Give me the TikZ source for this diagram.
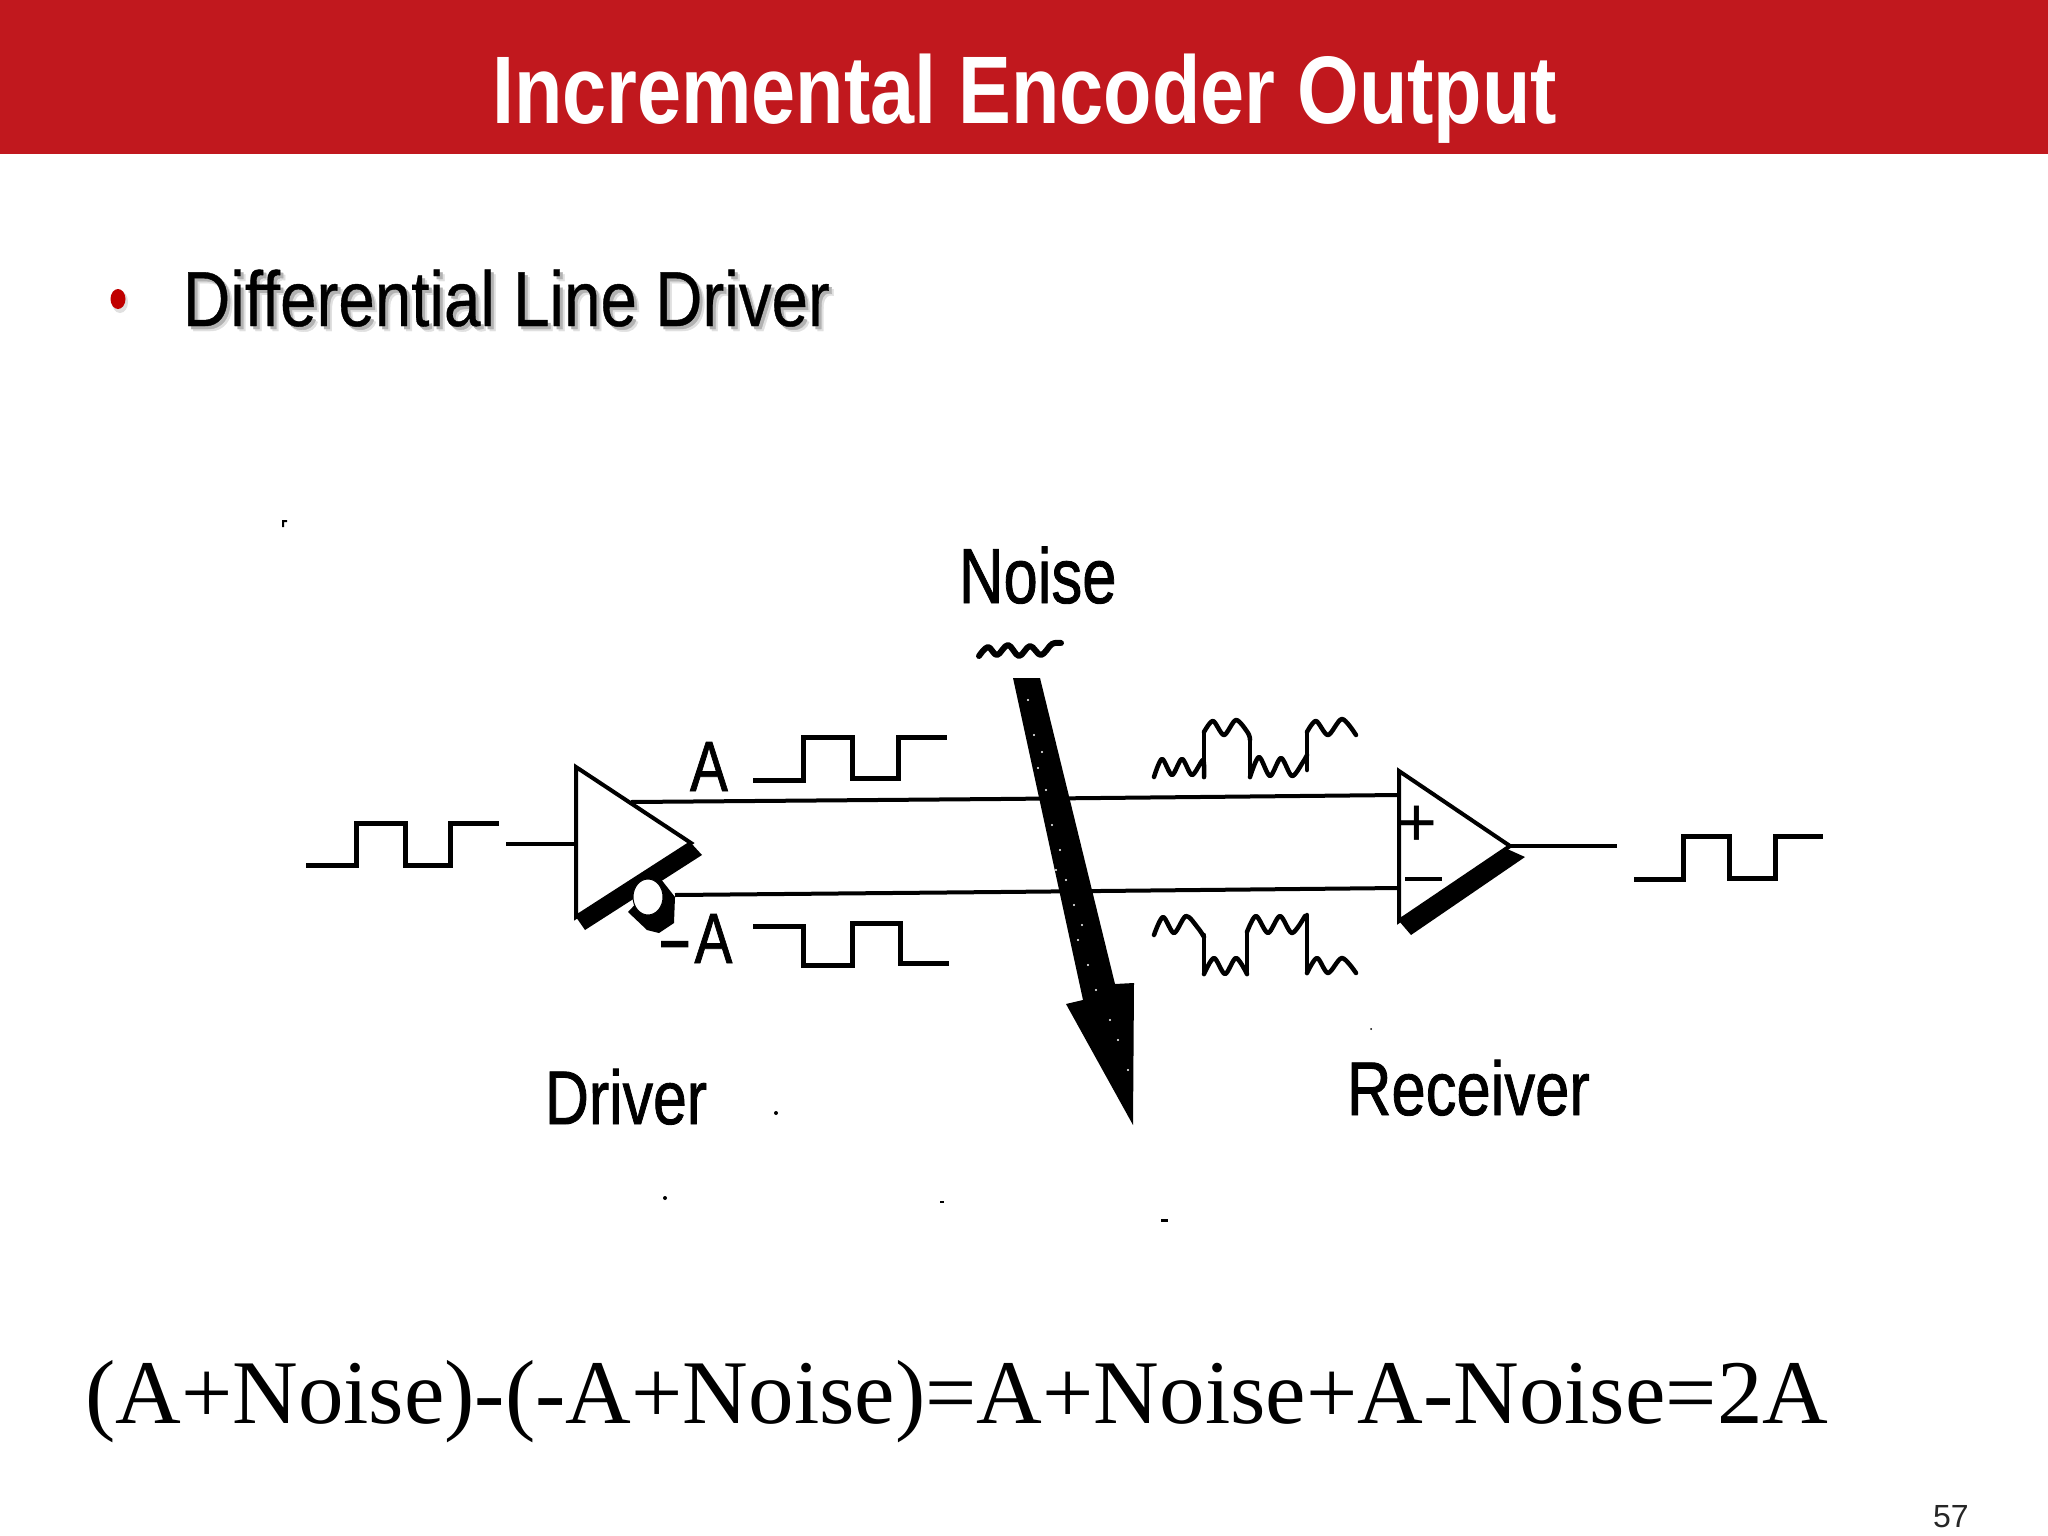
\documentclass[tikz,border=0pt]{standalone}
\usepackage{fontspec}
\usepackage{graphicx}
\setmainfont{Liberation Sans}
\newfontfamily\heavy[FakeBold=1.2]{Liberation Sans}
\newfontfamily\semi[FakeBold=0.5]{Liberation Sans}
\newfontfamily\eqfont{Liberation Serif}
\definecolor{banner}{HTML}{C1181E}
\definecolor{bulletred}{HTML}{C00000}
\newcommand{\sized}[2]{\fontsize{#1}{#1}\selectfont #2}
\newcommand{\narrow}[2]{\scalebox{#1}[1]{#2}}
\tikzset{
  txt/.style={inner sep=0pt,outer sep=0pt,anchor=base west,text=black},
  sig/.style={line width=5pt,line join=miter,line cap=butt},
  wob/.style={line width=4.5pt,line join=round,line cap=round},
  wire/.style={line width=4pt},
  gate/.style={line width=4pt,line join=miter},
  speck/.style={fill=black,draw=none},
  hole/.style={fill=white,draw=none}
}
\begin{document}
\begin{tikzpicture}[x=1pt,y=-1pt]
\useasboundingbox (0,0) rectangle (2048,1536);
\fill[white] (0,0) rectangle (2048,1536);
\fill[banner] (0,0) rectangle (2048,154);
\node[txt,text=white] (title) at (492,124) {\narrow{.825}{\sized{96}{\bfseries Incremental Encoder Output}}};
% bullet line
\fill[black!12] (120,302) ellipse (8 and 11);
\fill[bulletred] (118,299) ellipse (7.5 and 10);
\node[txt,text=black!12] (bulletshadowb) at (188,331) {\narrow{.84}{\sized{78}{\semi Differential Line Driver}}};
\node[txt,text=black!30] (bulletshadow) at (186,329) {\narrow{.84}{\sized{78}{\semi Differential Line Driver}}};
\node[txt] (bullet) at (183,326) {\narrow{.84}{\sized{78}{\semi Differential Line Driver}}};
% specks
\fill[speck] (282,520) rectangle (287,522) (282,520) rectangle (284,527);
\fill[speck] (776,1113) circle (2);
\fill[speck] (665,1198) circle (2);
\fill[speck] (940,1201) rectangle (944,1203);
\fill[speck] (1161,1219) rectangle (1168,1222);
\fill[speck] (1371,1029) circle (1);
% named points
\coordinate (inA) at (506,844);
\coordinate (drvL) at (576,844);
\coordinate (drvTopOut) at (631,802);
\coordinate (drvBotOut) at (675,895);
\coordinate (rcvPlus) at (1399,795);
\coordinate (rcvMinus) at (1399,888);
\coordinate (rcvTip) at (1510,846);
\coordinate (outA) at (1617,846);
% wires
\draw[wire] (drvTopOut) -- (1000,799) -- (rcvPlus);
\draw[wire] (drvBotOut) -- (1000,892) -- (rcvMinus);
\draw[wire] (inA) -- (drvL);
\draw[wire] (rcvTip) -- (outA);
% driver
\draw[gate,fill=white] (576,767) -- (691,843) -- (576,917) -- cycle;
\fill[black] (691,843) -- (702,855) -- (585,930) -- (576,917) -- cycle;
\fill[black] (628,912) -- (647,930) -- (659,933) -- (674,923) -- (675,897) -- (660,878) -- cycle;
\fill[white] (648,897) ellipse (15 and 18);
\draw[black,line width=1pt] (648,897) ellipse (15 and 18);
% receiver
\draw[gate,fill=white] (1399,771) -- (1510,846) -- (1399,921) -- cycle;
\fill[black] (1505,848) -- (1525,857) -- (1411,935) -- (1399,921) -- cycle;
\node[inner sep=0pt] (plus) at (1417,826) {\sized{70}{+}};
\draw[line width=4pt] (1405,879) -- (1442,879);
% noise arrow
\fill[black] (1013,678) -- (1040,678) -- (1115,984) -- (1134,983) -- (1133,1125) -- (1066,1004) -- (1083,1000) -- cycle;
\foreach \px/\py in {1028/700,1034/735,1038/768,1046/790,1052/825,1060/850,1066/880,1074/905,1078/940,1088/965,1096/990,1118/1040,1128/1070,1110/1020,1042/752,1056/870,1082/925}
  \fill[hole] (\px,\py) circle (1.2);
% labels
\node[txt] (noise) at (959,603) {\narrow{.79}{\sized{78}{\heavy Noise}}};
\node[txt] (driver) at (545,1124) {\narrow{.8}{\sized{76}{\heavy Driver}}};
\node[txt] (receiver) at (1347,1115) {\narrow{.81}{\sized{76}{\heavy Receiver}}};
\node[txt] (labelA) at (690,791) {\narrow{.8}{\sized{71}{\heavy A}}};
\node[txt] (labelNA) at (657,963) {\narrow{1.5}{\sized{71}{\heavy -}}\hspace{2pt}\narrow{.8}{\sized{71}{\heavy A}}};
% noise squiggle
\draw[line width=6pt,line cap=round,line join=round] plot[smooth,tension=.6] coordinates {(979,656) (988,647) (997,655) (1008,645) (1019,656) (1030,646) (1041,655) (1052,644) (1061,643)};
% clean waves
\draw[sig] (306,865) -- (356,865) -- (356,823) -- (405,823) -- (405,865) -- (450,865) -- (450,823) -- (499,823);
\draw[sig] (753,780) -- (803,780) -- (803,737) -- (852,737) -- (852,778) -- (898,778) -- (898,737) -- (947,737);
\draw[sig] (753,926) -- (803,926) -- (803,965) -- (852,965) -- (852,923) -- (900,923) -- (900,963) -- (949,963);
\draw[sig] (1634,879) -- (1683,879) -- (1683,836) -- (1729,836) -- (1729,878) -- (1775,878) -- (1775,836) -- (1823,836);
% noisy waves
\draw[wob] plot[smooth,tension=.5] coordinates {(1154,777) (1162,759) (1172,775) (1182,759) (1192,775) (1203,760) (1204,777)};
\draw[wob] (1204,777) -- (1204,732);
\draw[wob] plot[smooth,tension=.5] coordinates {(1204,732) (1213,721) (1224,735) (1236,720) (1248,733) (1250,740)};
\draw[wob] (1250,738) -- (1250,777);
\draw[wob] plot[smooth,tension=.5] coordinates {(1250,777) (1259,757) (1270,776) (1281,758) (1292,776) (1303,762) (1307,755)};
\draw[wob] (1307,770) -- (1307,732);
\draw[wob] plot[smooth,tension=.5] coordinates {(1307,732) (1316,721) (1328,735) (1342,719) (1356,735)};
\draw[wob] plot[smooth,tension=.5] coordinates {(1154,935) (1163,917) (1174,933) (1186,916) (1198,928) (1204,937)};
\draw[wob] (1204,935) -- (1204,974);
\draw[wob] plot[smooth,tension=.5] coordinates {(1204,974) (1214,958) (1225,974) (1236,958) (1247,974)};
\draw[wob] (1247,974) -- (1247,932);
\draw[wob] plot[smooth,tension=.5] coordinates {(1247,932) (1256,916) (1268,933) (1280,916) (1292,933) (1305,916)};
\draw[wob] (1307,915) -- (1307,973);
\draw[wob] plot[smooth,tension=.5] coordinates {(1307,973) (1317,958) (1328,973) (1342,958) (1356,973)};
% equation
\node[txt] (equation) at (85,1423) {\eqfont\sized{91}{(A+Noise)-(-A+Noise)=A+Noise+A-Noise=2A}};
\node[txt,text=black!85] (pagenum) at (1933,1527) {\sized{32}{57}};
\end{tikzpicture}
\end{document}
